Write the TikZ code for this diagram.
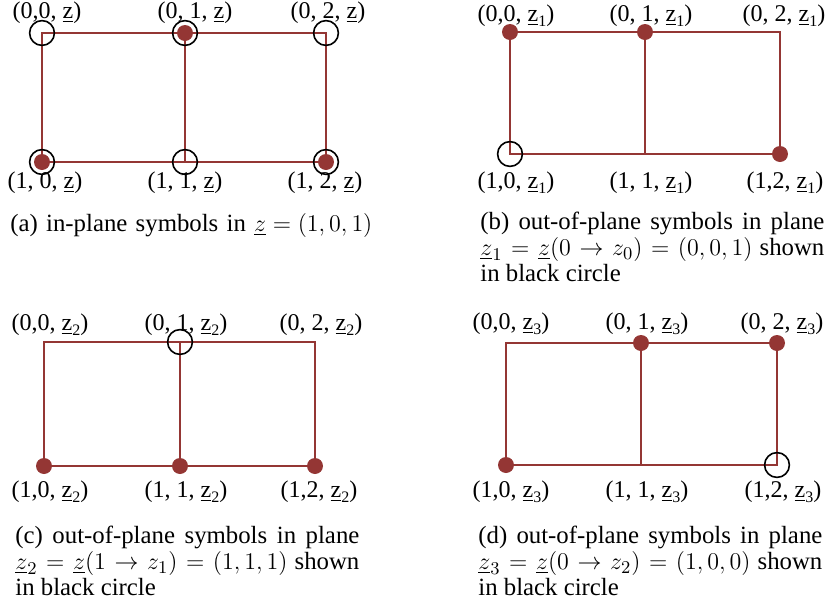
\documentclass[tikz,border=0pt]{standalone}
\usepackage[no-math]{fontspec}
\setmainfont{Liberation Serif}
\definecolor{brick}{HTML}{943634}
\newcommand{\zu}[1]{\underline{z}\raisebox{-0.45ex}{\footnotesize #1}}

\begin{document}
\begin{tikzpicture}[x=0.5pt,y=-0.5pt,
	edge/.style={brick,line width=1pt},
	sym/.style={fill=brick},
	ring/.style={draw=black,line width=0.8pt},
	lab/.style={inner sep=0pt,font=\fontsize{12}{14}\selectfont},
	subcap/.style={inner sep=0pt,anchor=north west,text width=172pt,align=justify,
		font=\fontsize{12.4}{13}\selectfont}]
	
	\useasboundingbox (0,0) rectangle (827,606);
	
	% the four grids: panel / three columns / top row / bottom row
	\foreach \p/\xa/\xb/\xc/\yt/\yb in {a/42/185/326/33/162,b/510/645/780/32/154,
		c/44/180/315/342/466,d/506/641/777/343/465}{
		\coordinate (\p00) at (\xa,\yt);
		\coordinate (\p01) at (\xb,\yt);
		\coordinate (\p02) at (\xc,\yt);
		\coordinate (\p10) at (\xa,\yb);
		\coordinate (\p11) at (\xb,\yb);
		\coordinate (\p12) at (\xc,\yb);
		\draw[edge] (\p00) -- (\p02) -- (\p12) -- (\p10) -- cycle (\p01) -- (\p11);
	}
	
	% (a) in-plane symbols
	\foreach \v in {a01,a10,a12} \fill[sym] (\v) circle (4pt);
	\foreach \v in {a00,a01,a02,a10,a11,a12} \draw[ring] (\v) circle (6.2pt);
	\node[lab] (la00) at ([shift={(5,-20)}]a00) {(0,0, \zu{})};
	\node[lab] (la01) at ([shift={(10,-20)}]a01) {(0, 1, \zu{})};
	\node[lab] (la02) at ([shift={(2,-20)}]a02) {(0, 2, \zu{})};
	\node[lab] (la10) at ([shift={(3,21)}]a10) {(1, 0, \zu{})};
	\node[lab] (la11) at ([shift={(0,21)}]a11) {(1, 1, \zu{})};
	\node[lab] (la12) at ([shift={(-1,21)}]a12) {(1, 2, \zu{})};
	\node[subcap,text width=200pt,align=left] (capa) at (10,213)
		{(a) in-plane symbols in $\underline{z}=(1,0,1)$};
	
	% (b) plane z_1
	\foreach \v in {b00,b01,b12} \fill[sym] (\v) circle (4pt);
	\draw[ring] (b10) circle (6.2pt);
	\node[lab] (lb00) at ([shift={(6,-16)}]b00) {(0,0, \zu{1})};
	\node[lab] (lb01) at ([shift={(6,-16)}]b01) {(0, 1, \zu{1})};
	\node[lab] (lb02) at ([shift={(4,-16)}]b02) {(0, 2, \zu{1})};
	\node[lab] (lb10) at ([shift={(6,29)}]b10) {(1,0, \zu{1})};
	\node[lab] (lb11) at ([shift={(6,29)}]b11) {(1, 1, \zu{1})};
	\node[lab] (lb12) at ([shift={(5,29)}]b12) {(1,2, \zu{1})};
	\node[subcap] (capb) at (480,212) {(b) out-of-plane symbols in plane\linebreak
		$\underline{z}_1=\underline{z}(0\rightarrow z_0)=(0,0,1)$ shown\linebreak
		in black circle};
	
	% (c) plane z_2
	\foreach \v in {c10,c11,c12} \fill[sym] (\v) circle (4pt);
	\draw[ring] (c01) circle (6.2pt);
	\node[lab] (lc00) at ([shift={(6,-17)}]c00) {(0,0, \zu{2})};
	\node[lab] (lc01) at ([shift={(6,-17)}]c01) {(0, 1, \zu{2})};
	\node[lab] (lc02) at ([shift={(6,-17)}]c02) {(0, 2, \zu{2})};
	\node[lab] (lc10) at ([shift={(6,26)}]c10) {(1,0, \zu{2})};
	\node[lab] (lc11) at ([shift={(6,26)}]c11) {(1, 1, \zu{2})};
	\node[lab] (lc12) at ([shift={(4,26)}]c12) {(1,2, \zu{2})};
	\node[subcap] (capc) at (15,526) {(c) out-of-plane symbols in plane\linebreak
		$\underline{z}_2=\underline{z}(1\rightarrow z_1)=(1,1,1)$ shown\linebreak
		in black circle};
	
	% (d) plane z_3
	\foreach \v in {d10,d01,d02} \fill[sym] (\v) circle (4pt);
	\draw[ring] (d12) circle (6.2pt);
	\node[lab] (ld00) at ([shift={(5,-19)}]d00) {(0,0, \zu{3})};
	\node[lab] (ld01) at ([shift={(6,-19)}]d01) {(0, 1, \zu{3})};
	\node[lab] (ld02) at ([shift={(5,-19)}]d02) {(0, 2, \zu{3})};
	\node[lab] (ld10) at ([shift={(5,27)}]d10) {(1,0, \zu{3})};
	\node[lab] (ld11) at ([shift={(6,27)}]d11) {(1, 1, \zu{3})};
	\node[lab] (ld12) at ([shift={(6,27)}]d12) {(1,2, \zu{3})};
	\node[subcap] (capd) at (478,526) {(d) out-of-plane symbols in plane\linebreak
		$\underline{z}_3=\underline{z}(0\rightarrow z_2)=(1,0,0)$ shown\linebreak
		in black circle};
	
\end{tikzpicture}
\end{document}
